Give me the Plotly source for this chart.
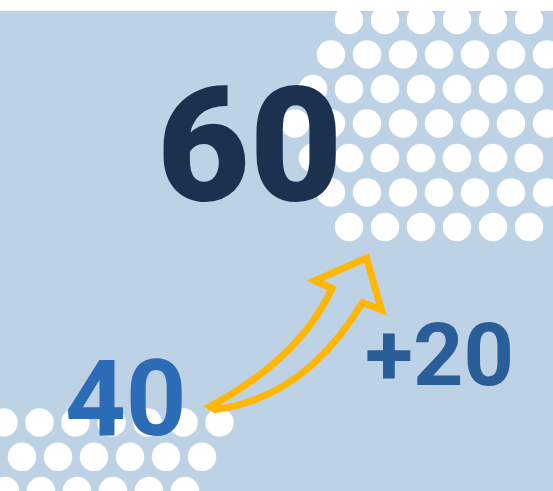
import plotly.graph_objects as go

# ---- data ----
current_value = 60
previous_value = 40
change_value = current_value - previous_value
labels = [str(current_value), str(previous_value), "+" + str(change_value)]

# decorative dot grid (row centre y, first x, last x), spacing 36 px
top_rows_y = [20, 54.5, 89, 123.5, 158, 192.5, 227]
top_rows_x0 = [349, 331, 313, 295, 313, 331, 349]
top_rows_x1 = [529, 547, 529, 547, 529, 547, 529]
bottom_rows_y = [422.5, 456.8, 491]
bottom_rows_x0 = [3.5, 22, 5]
bottom_rows_x1 = [219.5, 202, 185]
dot_step = 36

W, H = 553, 491
BG = "#BED2E6"

xs, ys = [], []
for rows in [(top_rows_y, top_rows_x0, top_rows_x1), (bottom_rows_y, bottom_rows_x0, bottom_rows_x1)]:
    for y, x0, x1 in zip(*rows):
        x = x0
        while x <= x1 + 0.1:
            xs.append(x)
            ys.append(y)
            x += dot_step

fig = go.Figure()
fig.add_trace(go.Scatter(x=xs, y=ys, mode="markers",
                         marker=dict(size=28.5, color="white", line=dict(width=0)),
                         hoverinfo="skip", showlegend=False))

shapes = [
    dict(type="rect", x0=0, x1=W, y0=11, y1=H, fillcolor=BG, line=dict(width=0), layer="below"),
    dict(type="rect", x0=0, x1=W, y0=0, y1=11, fillcolor="white", line=dict(width=0), layer="above"),
    dict(type="path",
         path="M 210,406.5 Q 300,358 332,288.5 L 315,280.5 L 366.5,258 L 381.5,310 L 362.5,302.5 Q 305,398 215,409.5 Z",
         line=dict(color="#FFB703", width=7), fillcolor="rgba(0,0,0,0)", layer="above"),
]

annotations = [
    dict(x=249, y=145, text=labels[0], showarrow=False, xanchor="center", yanchor="middle",
         font=dict(family="Roboto", size=160, color="#1C3150", weight=900)),
    dict(x=126, y=399, text=labels[1], showarrow=False, xanchor="center", yanchor="middle",
         font=dict(family="Roboto", size=106, color="#2C6BB5", weight=700)),
    dict(x=439, y=354, text=labels[2], showarrow=False, xanchor="center", yanchor="middle",
         font=dict(family="Roboto", size=88, color="#2A5E98", weight=700)),
]

fig.update_layout(
    width=W, height=H, margin=dict(l=0, r=0, t=0, b=0),
    paper_bgcolor="white", plot_bgcolor="white",
    xaxis=dict(range=[0, W], visible=False, fixedrange=True),
    yaxis=dict(range=[H, 0], visible=False, fixedrange=True),
    shapes=shapes, annotations=annotations,
)
fig.write_html("out.html", config=dict(displayModeBar=False),
               post_script="document.body.style.margin='0';document.body.style.overflow='hidden';")
